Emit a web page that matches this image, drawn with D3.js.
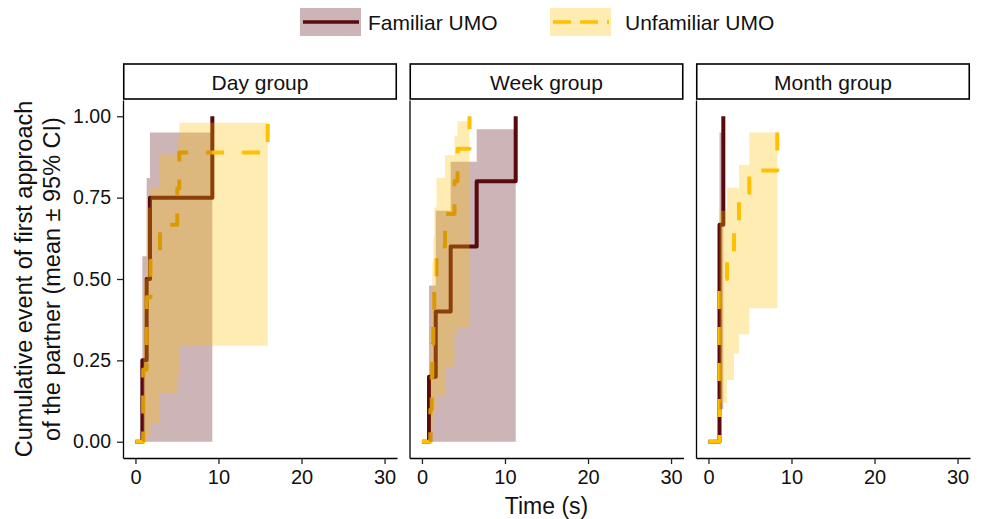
<!DOCTYPE html>
<html>
<head>
    <meta charset="utf-8">
    <title>Cumulative event of first approach</title>
    <script src="https://d3js.org/d3.v7.min.js"></script>
    <style>
        body { margin: 0; background: #fff; }
        text { font-family: "Liberation Sans", Arial, sans-serif; }
    </style>
</head>
<body>
    <div id="chart"></div>
    <script>

        // facets, series and ticks
        var groups = ["Day group", "Week group", "Month group"];
        var seriesNames = ["Familiar UMO", "Unfamiliar UMO"];
        var xTicks = [0, 10, 20, 30];
        var yTicks = [0, 0.25, 0.5, 0.75, 1];

        // rows: [time (s), cumulative event, lower 95% CI, upper 95% CI]
        var dayFamiliar = [[0, 0, 0, 0], [0.83, 0.25, 0, 0.57], [1.35, 0.5, 0, 0.81],
            [1.75, 0.75, 0, 0.95], [9.26, 1, 1, 1]];
        var dayUnfamiliar = [[0, 0, 0, 0], [0.95, 0.222, 0, 0.5], [1.35, 0.444, 0.02, 0.72],
            [1.81, 0.556, 0.057, 0.78], [2.96, 0.667, 0.149, 0.883], [5.04, 0.778, 0.2, 0.93],
            [5.28, 0.889, 0.295, 0.98], [15.93, 1, 1, 1]];
        var weekFamiliar = [[0, 0, 0, 0], [0.85, 0.2, 0, 0.48], [1.66, 0.4, 0, 0.71],
            [3.46, 0.6, 0, 0.86], [6.59, 0.8, 0, 0.96], [11.29, 1, 1, 1]];
        var weekUnfamiliar = [[0, 0, 0, 0], [1.03, 0.1, 0, 0.35], [1.17, 0.2, 0.02, 0.45],
            [1.25, 0.3, 0.05, 0.55], [1.37, 0.4, 0.08, 0.63], [1.49, 0.5, 0.1, 0.72],
            [1.75, 0.6, 0.14, 0.81], [2.78, 0.7, 0.23, 0.88], [3.92, 0.8, 0.33, 0.94],
            [4.28, 0.9, 0.35, 0.985], [5.73, 1, 1, 1]];
        var monthFamiliar = [[0, 0, 0, 0], [1.33, 0.667, 0.1, 0.95], [1.79, 1, 1, 1]];
        var monthUnfamiliar = [[0, 0, 0, 0], [1.35, 0.5, 0.12, 0.71], [2.23, 0.583, 0.19, 0.78],
            [3.08, 0.667, 0.27, 0.78], [3.68, 0.75, 0.33, 0.85], [4.92, 0.833, 0.41, 0.95],
            [8.29, 1, 1, 1]];

        var curves = [
            [dayFamiliar, dayUnfamiliar],
            [weekFamiliar, weekUnfamiliar],
            [monthFamiliar, monthUnfamiliar]
        ];

        var lineColors = ["#5a0a0f", "#ffc000"];
        var dashes = [null, "18,18"];

        var width = 983, height = 519;
        var panelLeft = [123, 409.5, 696];
        var panelW = 274;
        var plotTop = 100, plotBottom = 458;
        var stripTop = 64;

        var svg = d3.select("#chart")
            .append("svg")
            .attr("width", width)
            .attr("height", height);

        var x = d3.scaleLinear().domain([-1.5, 31.5]).range([0, panelW]);
        var y = d3.scaleLinear().domain([-0.05, 1.05]).range([plotBottom, plotTop]);

        var line = d3.line()
            .x(function(d) { return x(d[0]); })
            .y(function(d) { return y(d[1]); })
            .curve(d3.curveStepAfter);

        var area = d3.area()
            .x(function(d) { return x(d[0]); })
            .y0(function(d) { return y(d[2]); })
            .y1(function(d) { return y(d[3]); })
            .curve(d3.curveStepAfter);

        groups.forEach(function(name, i) {
            var g = svg.append("g")
                .attr("transform", `translate(${panelLeft[i]}, 0)`);

            // lines first, ribbons laid over them
            curves[i].forEach(function(c, s) {
                g.append("path")
                    .datum(c)
                    .attr("d", line)
                    .attr("fill", "none")
                    .attr("stroke", lineColors[s])
                    .attr("stroke-width", 4)
                    .attr("stroke-linejoin", "round")
                    .attr("stroke-dasharray", dashes[s]);
            });
            curves[i].forEach(function(c, s) {
                g.append("path")
                    .datum(c)
                    .attr("d", area)
                    .attr("fill", lineColors[s])
                    .attr("fill-opacity", 0.3);
            });

            // strip
            g.append("rect")
                .attr("x", 0.75)
                .attr("y", stripTop)
                .attr("width", panelW - 1.5)
                .attr("height", plotTop - stripTop - 1)
                .attr("fill", "#fff")
                .attr("stroke", "#000")
                .attr("stroke-width", 1.6);
            g.append("text")
                .attr("x", panelW / 2)
                .attr("y", 89.5)
                .attr("text-anchor", "middle")
                .style("font-size", "21px")
                .style("fill", "#111")
                .text(name);

            // x axis
            var xa = g.append("g")
                .attr("transform", `translate(0, ${plotBottom})`)
                .call(d3.axisBottom(x).tickValues(xTicks).tickSize(6).tickSizeOuter(0).tickPadding(6));
            xa.selectAll("text").style("font-size", "20px").style("fill", "#111");

            // y axis
            var ya = g.append("g")
                .call(d3.axisLeft(y).tickValues(i === 0 ? yTicks : []).tickFormat(d3.format(".2f"))
                    .tickSize(6).tickSizeOuter(0).tickPadding(6));
            ya.selectAll("text").style("font-size", "19.5px").style("fill", "#111");

            g.selectAll(".domain").attr("stroke", "#000").attr("stroke-width", 1.3);
            g.selectAll(".tick line").attr("stroke", "#222").attr("stroke-width", 1.3);
        });

        // axis titles
        svg.append("text")
            .attr("x", (panelLeft[0] + panelLeft[2] + panelW) / 2)
            .attr("y", 514)
            .attr("text-anchor", "middle")
            .style("font-size", "23px")
            .style("fill", "#111")
            .text("Time (s)");

        var yTitle = svg.append("text")
            .attr("transform", `translate(0, ${(plotTop + plotBottom) / 2}) rotate(-90)`)
            .attr("text-anchor", "middle")
            .style("font-size", "23.5px")
            .style("fill", "#111");
        yTitle.append("tspan").attr("x", 0).attr("y", 32).text("Cumulative event of first approach");
        yTitle.append("tspan").attr("x", 0).attr("y", 60).text("of the partner (mean \u00b1 95% CI)");

        // legend
        var legendX = [300, 550];
        seriesNames.forEach(function(name, s) {
            var lg = svg.append("g").attr("transform", `translate(${legendX[s]}, 8)`);
            lg.append("rect")
                .attr("width", 61)
                .attr("height", 28)
                .attr("fill", lineColors[s])
                .attr("fill-opacity", 0.3);
            lg.append("line")
                .attr("x1", 3).attr("x2", 59)
                .attr("y1", 14).attr("y2", 14)
                .attr("stroke", lineColors[s])
                .attr("stroke-width", 3.5)
                .attr("stroke-dasharray", s === 1 ? "18,9" : null);
            lg.append("text")
                .attr("x", s === 0 ? 68 : 75)
                .attr("y", 21.5)
                .style("font-size", "21px")
                .style("fill", "#111")
                .text(name);
        });

    </script>
</body>
</html>
